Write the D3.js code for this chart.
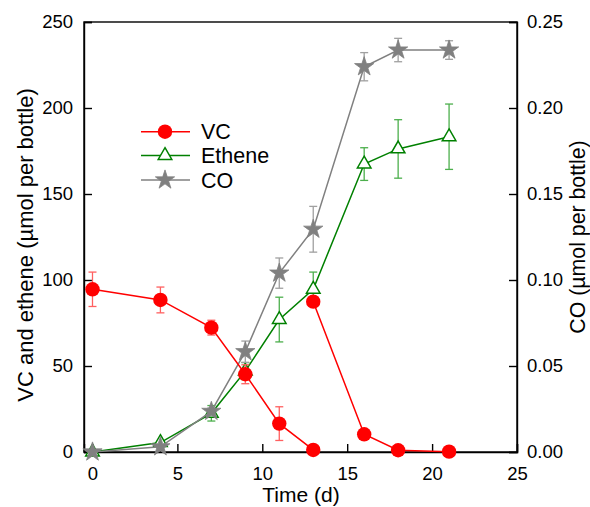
<!DOCTYPE html>
<html><head><meta charset="utf-8">
<script src="https://cdn.jsdelivr.net/npm/d3@7"></script>
<style>body{margin:0;background:#fff}svg text{font-family:"Liberation Sans",Arial,sans-serif;fill:#000}</style>
</head><body><svg id="c" width="590" height="507"></svg>
<script>
const vcDays = [0,4,7,9,11,13,13,16,18,21];
const vcVals = [94.6,88.4,72.3,45.2,16.5,1.2,87.4,10.3,1.0,0.2];
const vcErr  = [10,7.5,4.3,5.5,9.8,0,2,0,0,0];
const vcSegment = [0,0,0,0,0,0,1,1,1,1];
const etDays = [0,4,7,9,11,13,16,18,21];
const etVals = [0,5.5,22.5,47,77,94.6,167.4,176.2,183.3];
const etErr  = [0,0,4.5,5,13,10,9.5,17,19];
const coDays = [0,4,7,9,11,13,16,18,21];
const coVals = [0,0.003,0.0236,0.0583,0.104,0.1295,0.224,0.2337,0.2337];
const coErr  = [0,0,0.002,0.0062,0.0088,0.0133,0.0082,0.0068,0.0054];
const xTicks = [0,5,10,15,20,25];
const yTicks = [0,50,100,150,200,250];
const y2Ticks = [0,0.05,0.10,0.15,0.20,0.25];
const legendNames = ["VC","Ethene","CO"];

const svg = d3.select("#c");
const L=84,R=517,T=22,B=452;
const x = d3.scaleLinear().domain([-0.5,25]).range([L,R]);
const y = d3.scaleLinear().domain([0,250]).range([B,T]);
const y2 = d3.scaleLinear().domain([0,0.25]).range([B,T]);

svg.append("rect").attr("x",L).attr("y",T).attr("width",R-L).attr("height",B-T)
  .attr("fill","none").attr("stroke","#000").attr("stroke-width",1.4);

const fs = 18.5;
const ax = svg.append("g").attr("transform",`translate(0,${B})`)
  .call(d3.axisBottom(x).tickValues(xTicks).tickSize(-8).tickPadding(15).tickFormat(d3.format("d")));
const ay = svg.append("g").attr("transform",`translate(${L},0)`)
  .call(d3.axisLeft(y).tickValues(yTicks).tickSize(-8).tickPadding(11).tickFormat(d3.format("d")));
const ay2 = svg.append("g").attr("transform",`translate(${R},0)`)
  .call(d3.axisRight(y2).tickValues(y2Ticks).tickSize(-8).tickPadding(10).tickFormat(d3.format(".2f")));
[ax,ay,ay2].forEach(g=>{
  g.attr("font-family",null).attr("font-size",null);
  g.select(".domain").attr("stroke","#000").attr("stroke-width",1.4);
  g.selectAll(".tick line").attr("stroke","#000").attr("stroke-width",1.4);
  g.selectAll(".tick text").attr("font-size",fs);
});

svg.append("text").attr("x",301).attr("y",502).attr("text-anchor","middle").attr("font-size",21).text("Time (d)");
svg.append("text").attr("transform","translate(33,245) rotate(-90)").attr("text-anchor","middle").attr("font-size",22).text("VC and ethene (µmol per bottle)");
svg.append("text").attr("transform","translate(585,237) rotate(-90)").attr("text-anchor","middle").attr("font-size",21.3).text("CO (µmol per bottle)");

function series(days, vals, errs, segs, ys, color, errColor){
  const pts = days.map((d,i)=>({x:d,y:vals[i],e:errs[i],s:segs?segs[i]:0}));
  const g = svg.append("g");
  const eb = g.append("g").attr("stroke",errColor).attr("stroke-width",1.3);
  pts.filter(p=>p.e>0).forEach(p=>{
    const cx=x(p.x), y1=ys(p.y+p.e), y0=ys(p.y-p.e);
    eb.append("line").attr("x1",cx).attr("x2",cx).attr("y1",y1).attr("y2",y0);
    eb.append("line").attr("x1",cx-4).attr("x2",cx+4).attr("y1",y1).attr("y2",y1);
    eb.append("line").attr("x1",cx-4).attr("x2",cx+4).attr("y1",y0).attr("y2",y0);
  });
  const groups = d3.groups(pts,p=>p.s).map(d=>d[1]);
  g.selectAll(".ln").data(groups).join("path").attr("fill","none").attr("stroke",color).attr("stroke-width",1.5)
    .attr("d",d3.line().x(p=>x(p.x)).y(p=>ys(p.y)));
  return {g,pts};
}
const starSym = d3.symbol(d3.symbolStar,115);
const triSym = d3.symbol(d3.symbolTriangle,80);
const et = series(etDays,etVals,etErr,null,y,"#008000","#4caf4c");
et.g.selectAll(".m").data(et.pts).join("path")
  .attr("transform",p=>`translate(${x(p.x)},${y(p.y)})`)
  .attr("d",triSym).attr("fill","#fff").attr("stroke","#008000").attr("stroke-width",1.5);
const co = series(coDays,coVals,coErr,null,y2,"#808080","#a0a0a0");
co.g.selectAll(".m").data(co.pts).join("path")
  .attr("transform",p=>`translate(${x(p.x)},${y2(p.y)})`)
  .attr("d",starSym).attr("fill","#808080").attr("stroke","#808080").attr("stroke-width",0.8);
const vc = series(vcDays,vcVals,vcErr,vcSegment,y,"#ff0000","#ff6060");
vc.g.selectAll(".m").data(vc.pts).join("circle")
  .attr("cx",p=>x(p.x)).attr("cy",p=>y(p.y)).attr("r",7.2).attr("fill","#ff0000");

const lg = svg.append("g");
const lgColors = ["#ff0000","#008000","#808080"];
const lgY = [131.7,155.5,180];
legendNames.forEach((n,i)=>{
  const yy = lgY[i];
  lg.append("line").attr("x1",141).attr("x2",190).attr("y1",yy).attr("y2",yy).attr("stroke",lgColors[i]).attr("stroke-width",1.5);
  if(i===0) lg.append("circle").attr("cx",165).attr("cy",yy).attr("r",7.2).attr("fill","#ff0000");
  if(i===1) lg.append("path").attr("transform",`translate(165,${yy})`).attr("d",triSym).attr("fill","#fff").attr("stroke","#008000").attr("stroke-width",1.5);
  if(i===2) lg.append("path").attr("transform",`translate(165,${yy})`).attr("d",starSym).attr("fill","#808080").attr("stroke","#808080").attr("stroke-width",0.8);
  lg.append("text").attr("x",201).attr("y",yy+7.5).attr("font-size",21.5).text(n);
});
</script></body></html>
